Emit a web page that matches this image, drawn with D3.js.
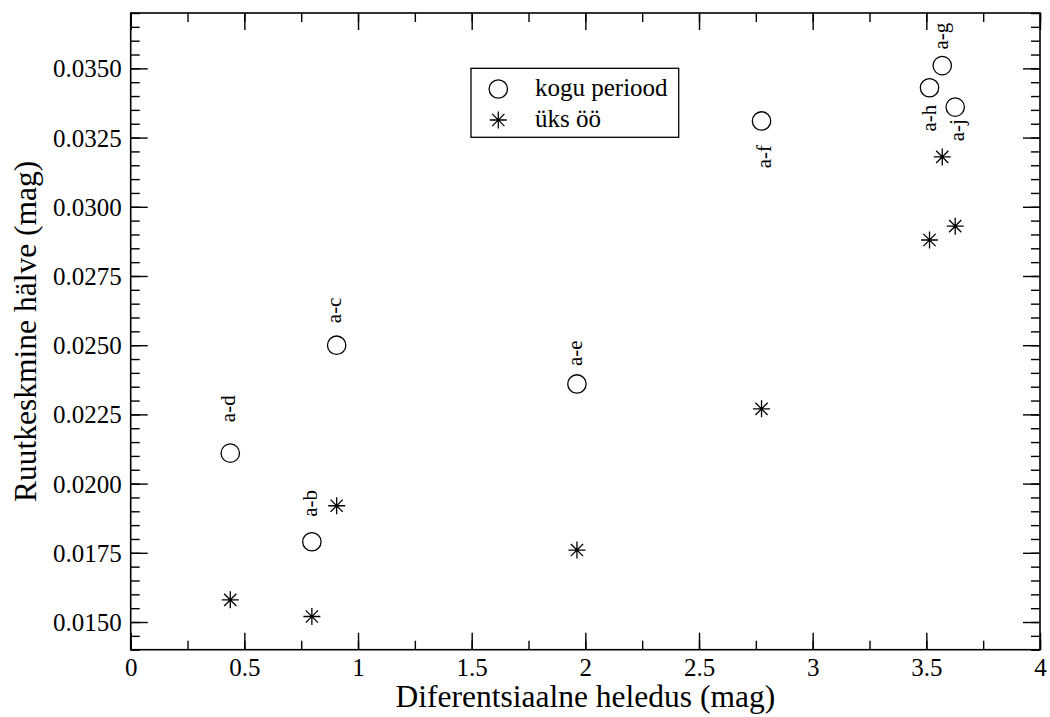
<!DOCTYPE html>
<html>
<head>
<meta charset="utf-8">
<script src="https://cdn.jsdelivr.net/npm/d3@7"></script>
<style>
  html, body { margin: 0; padding: 0; background: #fff; }
  svg { display: block; }
  text { font-family: "Liberation Serif", "Times New Roman", serif; fill: #000; }
</style>
</head>
<body>
<svg id="chart" width="1050" height="717"></svg>
<script>
// ---- data ----
const pairs   = ["a-b", "a-c", "a-d", "a-e", "a-f", "a-g", "a-h", "a-j"];
const xVals   = [0.797, 0.906, 0.438, 1.963, 2.775, 3.570, 3.514, 3.627];
const koguPeriood = [0.0179, 0.0250, 0.0211, 0.0236, 0.0331, 0.0351, 0.0343, 0.0336];
const yksOo       = [0.0152, 0.0192, 0.0158, 0.0176, 0.0227, 0.0318, 0.0288, 0.0293];
const labelSide = ["above", "above", "above", "above", "below", "above", "below", "below"];
const labelGap  = [25, 22, 31, 18, 24, 16, 17, 12];
const labelDx   = [5, 4.5, 5, 5, 9, 6, 6, 9];

const xTicks = [0, 0.5, 1, 1.5, 2, 2.5, 3, 3.5, 4];
const xTickLabels = ["0", "0.5", "1", "1.5", "2", "2.5", "3", "3.5", "4"];
const yTicks = [0.0150, 0.0175, 0.0200, 0.0225, 0.0250, 0.0275, 0.0300, 0.0325, 0.0350];
const yTickLabels = ["0.0150", "0.0175", "0.0200", "0.0225", "0.0250", "0.0275", "0.0300", "0.0325", "0.0350"];
const legendLabels = ["kogu periood", "üks öö"];
const xTitle = "Diferentsiaalne heledus (mag)";
const yTitle = "Ruutkeskmine hälve (mag)";

// ---- layout ----
const L = 130.7, R = 1040, T = 13, B = 649.7;
const svg = d3.select("#chart");
const x = d3.scaleLinear().domain([0, 4]).range([L, R]);
const y = d3.scaleLinear().domain([0.014, 0.037]).range([B, T]);

const majorLen = 17, minorLen = 9;
const xMinor = d3.range(0, 4.0001, 0.25);
const yMinor = d3.range(0, 47).map(i => 0.014 + i * 0.0005).filter(v => v <= 0.03701);

const axW = 1.6;
const g = svg.append("g");

// frame
g.append("rect").attr("x", L).attr("y", T).attr("width", R - L).attr("height", B - T)
  .attr("fill", "none").attr("stroke", "#000").attr("stroke-width", axW);

// bottom axis ticks
const xAxisB = d3.axisBottom(x).tickValues(xMinor).tickSizeInner(-minorLen).tickSizeOuter(0).tickFormat("");
const xAxisBMaj = d3.axisBottom(x).tickValues(xTicks).tickSizeInner(-majorLen).tickSizeOuter(0)
  .tickFormat((d, i) => xTickLabels[i]).tickPadding(0);
const xAxisTMin = d3.axisTop(x).tickValues(xMinor).tickSizeInner(-minorLen).tickSizeOuter(0).tickFormat("");
const xAxisTMaj = d3.axisTop(x).tickValues(xTicks).tickSizeInner(-majorLen).tickSizeOuter(0).tickFormat("");
const yAxisLMin = d3.axisLeft(y).tickValues(yMinor).tickSizeInner(-minorLen).tickSizeOuter(0).tickFormat("");
const yAxisLMaj = d3.axisLeft(y).tickValues(yTicks).tickSizeInner(-majorLen).tickSizeOuter(0)
  .tickFormat((d, i) => yTickLabels[i]);
const yAxisRMin = d3.axisRight(y).tickValues(yMinor).tickSizeInner(-minorLen).tickSizeOuter(0).tickFormat("");
const yAxisRMaj = d3.axisRight(y).tickValues(yTicks).tickSizeInner(-majorLen).tickSizeOuter(0).tickFormat("");

function styleAxis(sel) {
  sel.select(".domain").remove();
  sel.selectAll(".tick line").attr("stroke", "#000").attr("stroke-width", 1.4);
}

g.append("g").attr("transform", `translate(0,${B})`).call(xAxisB).call(styleAxis);
const xb = g.append("g").attr("transform", `translate(0,${B})`).call(xAxisBMaj).call(styleAxis);
xb.selectAll(".tick text").attr("y", 26).attr("dy", 0)
  .style("font-family", '"Liberation Serif", serif').style("font-size", "25px").attr("fill", "#000");

g.append("g").attr("transform", `translate(0,${T})`).call(xAxisTMin).call(styleAxis);
g.append("g").attr("transform", `translate(0,${T})`).call(xAxisTMaj).call(styleAxis);

g.append("g").attr("transform", `translate(${L},0)`).call(yAxisLMin).call(styleAxis);
const yl = g.append("g").attr("transform", `translate(${L},0)`).call(yAxisLMaj).call(styleAxis);
yl.selectAll(".tick text").attr("x", -9).attr("dy", "0.34em")
  .style("font-family", '"Liberation Serif", serif').style("font-size", "25px").attr("fill", "#000");

g.append("g").attr("transform", `translate(${R},0)`).call(yAxisRMin).call(styleAxis);
g.append("g").attr("transform", `translate(${R},0)`).call(yAxisRMaj).call(styleAxis);

// axis titles
svg.append("text").attr("x", (L + R) / 2).attr("y", 706.5).attr("text-anchor", "middle")
  .style("font-size", "31.5px").text(xTitle);
svg.append("text").attr("transform", `translate(36,${(T + B) / 2}) rotate(-90)`)
  .attr("text-anchor", "middle").style("font-size", "31.5px").text(yTitle);

// symbols
const circR = 9.2;
function drawStar(sel, cx, cy, s) {
  const d = s * 0.72;
  const p = `M${cx - s},${cy}L${cx + s},${cy}M${cx},${cy - s}L${cx},${cy + s}` +
            `M${cx - d},${cy - d}L${cx + d},${cy + d}M${cx - d},${cy + d}L${cx + d},${cy - d}`;
  sel.append("path").attr("d", p).attr("stroke", "#000").attr("stroke-width", 1.3).attr("fill", "none");
}

const pts = pairs.map((p, i) => ({ p, x: xVals[i], k: koguPeriood[i], o: yksOo[i], side: labelSide[i], gap: labelGap[i], dx: labelDx[i] }));

g.selectAll("circle.kogu").data(pts).join("circle").attr("class", "kogu")
  .attr("cx", d => x(d.x)).attr("cy", d => y(d.k)).attr("r", circR)
  .attr("fill", "none").attr("stroke", "#000").attr("stroke-width", 1.3);

const starG = g.append("g");
pts.forEach(d => drawStar(starG, x(d.x), y(d.o), 8.5));

// point labels (rotated)
g.selectAll("text.plab").data(pts).join("text").attr("class", "plab")
  .attr("transform", d => {
    const cx = x(d.x) + d.dx;
    const cy = d.side === "above" ? y(d.k) - d.gap : y(d.k) + d.gap;
    return `translate(${cx},${cy}) rotate(-90)`;
  })
  .attr("text-anchor", d => d.side === "above" ? "start" : "end")
  .style("font-size", "21px").text(d => d.p);

// legend
const lg = svg.append("g");
lg.append("rect").attr("x", 471).attr("y", 68.3).attr("width", 207.7).attr("height", 69)
  .attr("fill", "#fff").attr("stroke", "#000").attr("stroke-width", 1.3);
lg.append("circle").attr("cx", 498.3).attr("cy", 89).attr("r", circR)
  .attr("fill", "none").attr("stroke", "#000").attr("stroke-width", 1.3);
drawStar(lg, 498.3, 120, 8.5);
legendLabels.forEach((t, i) => {
  lg.append("text").attr("x", 535).attr("y", [95.5, 126.5][i]).style("font-size", "25px").text(t);
});
</script>
</body>
</html>
